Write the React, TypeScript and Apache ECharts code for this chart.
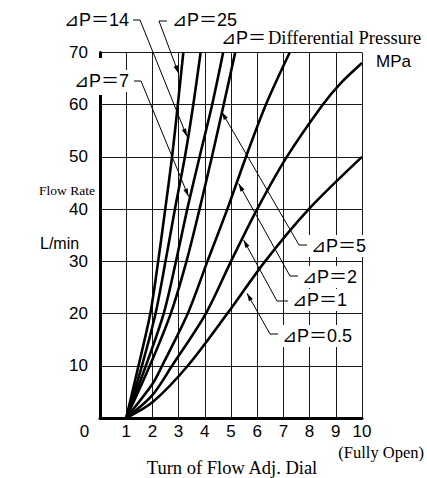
import React, { useEffect, useRef } from "react";
import * as echarts from "echarts";

const SANS = '"Liberation Sans", Arial, "DejaVu Sans", "Noto Sans CJK JP", sans-serif';
const SERIF = '"Liberation Serif", "Times New Roman", "DejaVu Serif", serif';

// Flow rate (L/min) vs turn of dial, one curve per differential pressure (MPa)
const PRESSURES = ["25", "14", "7", "5", "2", "1", "0.5"];
const dp25 = [[1, 0], [1.47, 10], [1.92, 20], [2.22, 30], [2.49, 40], [2.75, 50], [2.97, 60], [3.18, 70]];
const dp14 = [[1, 0], [1.6, 10], [2.12, 20], [2.5, 30], [2.86, 40], [3.24, 50], [3.56, 60], [3.84, 70]];
const dp7 = [[1, 0], [1.75, 10], [2.43, 20], [2.9, 30], [3.33, 40], [3.8, 50], [4.28, 60], [4.7, 70]];
const dp5 = [[1, 0], [1.9, 10], [2.7, 20], [3.3, 30], [3.8, 40], [4.27, 50], [4.72, 60], [5.16, 70]];
const dp2 = [[1, 0], [2, 6.5], [2.37, 10], [3.35, 20], [4.1, 30], [4.86, 40], [5.57, 50], [6.33, 60], [7.24, 70]];
const dp1 = [[1, 0], [2, 4.4], [2.75, 10], [4.04, 20], [5.0, 30], [6.0, 40], [7.13, 50], [8.5, 60], [9.2, 64.2], [10, 68]];
const dp05 = [[1, 0], [2, 3], [3.35, 10], [4.86, 20], [6.3, 30], [7.97, 40], [10, 50]];
const CURVES = [dp25, dp14, dp7, dp5, dp2, dp1, dp05];

// points (in data units) where each label's arrow touches its curve
const ARROW_TIPS = [[3.0, 66.0], [3.32, 53.9], [3.38, 42.4], [4.65, 58.6], [5.29, 44.9], [5.48, 34.1], [5.61, 23.9]];

const X_MIN = 0, X_MAX = 10, X_STEP = 1;
const Y_MIN = 0, Y_MAX = 70, Y_STEP = 10;

// label layout (pixels) for each pressure in PRESSURES order: text anchor, alignment, hook
const LABEL_LAYOUT = [
  { tx: 170, ty: 20, align: "left", hook: [[167, 21], [159, 21]] },
  { tx: 131, ty: 20, align: "right", hook: [[133, 20], [140, 20]] },
  { tx: 131, ty: 81, align: "right", hook: [[134, 81], [141, 81]] },
  { tx: 309, ty: 246, align: "left", hook: [[307, 245], [299, 245]] },
  { tx: 300, ty: 277, align: "left", hook: [[298, 276], [290, 276]] },
  { tx: 290, ty: 300, align: "left", hook: [[288, 301], [277, 301]] },
  { tx: 280, ty: 336, align: "left", hook: [[278, 334], [270, 334]] },
];

export default function App() {
  const ref = useRef<HTMLDivElement>(null);
  useEffect(() => {
    const chart = echarts.init(ref.current as HTMLDivElement, null, { renderer: "svg" });
    const series = CURVES.map((d, i) => ({
      type: "line",
      name: "ΔP=" + PRESSURES[i],
      data: d,
      smooth: 0.3,
      symbol: "none",
      lineStyle: { color: "#000", width: 2.6 },
      z: 3,
    }));
    chart.setOption({
      animation: false,
      backgroundColor: "#fff",
      grid: { left: 100, top: 52.5, right: 65, bottom: 60 },
      xAxis: {
        type: "value",
        min: X_MIN,
        max: X_MAX,
        interval: X_STEP,
        axisLine: { show: true, onZero: false, lineStyle: { color: "#000", width: 3 } },
        axisTick: { show: false },
        splitLine: { show: true, lineStyle: { color: "#1a1a1a", width: 1 } },
        axisLabel: {
          margin: 5,
          color: "#000",
          fontSize: 17,
          fontFamily: SANS,
          formatter: (v: number) => (v === 0 ? "" : String(v)),
        },
      },
      yAxis: {
        type: "value",
        min: Y_MIN,
        max: Y_MAX,
        interval: Y_STEP,
        axisLine: { show: true, onZero: false, lineStyle: { color: "#000", width: 3 } },
        axisTick: { show: false },
        splitLine: { show: true, lineStyle: { color: "#1a1a1a", width: 1 } },
        axisLabel: {
          margin: 12,
          color: "#000",
          fontSize: 17,
          fontFamily: SANS,
          formatter: (v: number) => (v === 0 ? "" : String(v)),
        },
      },
      series,
    });

    const graphics: any[] = [];
    const txt = (text: string, x: number, y: number, opts: any = {}) => ({
      type: "text",
      x,
      y,
      z: 100,
      style: {
        text,
        fill: "#000",
        fontSize: opts.fontSize || 16,
        fontFamily: opts.fontFamily || SANS,
        align: opts.align || "left",
        verticalAlign: "middle",
        backgroundColor: opts.bg ? "#fff" : undefined,
        padding: opts.bg ? [2, 2] : undefined,
      },
    });

    // gap in the left axis next to the ΔP=7 label
    graphics.push({ type: "rect", z: 90, shape: { x: 95, y: 58, width: 9, height: 37 }, style: { fill: "#fff" } });

    LABEL_LAYOUT.forEach((l, i) => {
      const tip = chart.convertToPixel({ gridIndex: 0 }, ARROW_TIPS[i]) as number[];
      const start = l.hook[1];
      graphics.push(txt("⊿P＝" + PRESSURES[i], l.tx, l.ty, { align: l.align, bg: true, fontSize: 18 }));
      graphics.push({
        type: "polyline",
        z: 110,
        shape: { points: [l.hook[0], l.hook[1], tip] },
        style: { stroke: "#000", lineWidth: 1, fill: null },
      });
      const dx = tip[0] - start[0];
      const dy = tip[1] - start[1];
      const len = Math.sqrt(dx * dx + dy * dy);
      const ux = dx / len, uy = dy / len;
      const nx = -uy, ny = ux;
      const L = 8, W = 2.3;
      graphics.push({
        type: "polygon",
        z: 111,
        shape: {
          points: [
            [tip[0], tip[1]],
            [tip[0] - L * ux + W * nx, tip[1] - L * uy + W * ny],
            [tip[0] - L * ux - W * nx, tip[1] - L * uy - W * ny],
          ],
        },
        style: { fill: "#000" },
      });
    });

    graphics.push(txt("⊿P＝", 266, 38, { align: "right", fontSize: 18 }));
    graphics.push(txt("Differential Pressure", 268, 38, { fontFamily: SERIF, fontSize: 18.5 }));
    graphics.push(txt("MPa", 376, 61, { fontSize: 17 }));
    graphics.push(txt("Flow Rate", 39, 190, { fontFamily: SERIF, fontSize: 13.5 }));
    graphics.push(txt("L/min", 40, 243, { fontSize: 16 }));
    graphics.push(txt("0", 84.5, 431, { align: "center", fontSize: 17 }));
    graphics.push(txt("(Fully Open)", 424, 452, { align: "right", fontFamily: SERIF, fontSize: 16.5 }));
    graphics.push(txt("Turn of Flow Adj. Dial", 232, 468, { align: "center", fontFamily: SERIF, fontSize: 18.5 }));

    chart.setOption({ graphic: graphics });
    return () => chart.dispose();
  }, []);
  return (
    <div
      ref={ref}
      style={{ position: "absolute", left: 0, top: 0, width: 427, height: 478, background: "#fff" }}
    />
  );
}
